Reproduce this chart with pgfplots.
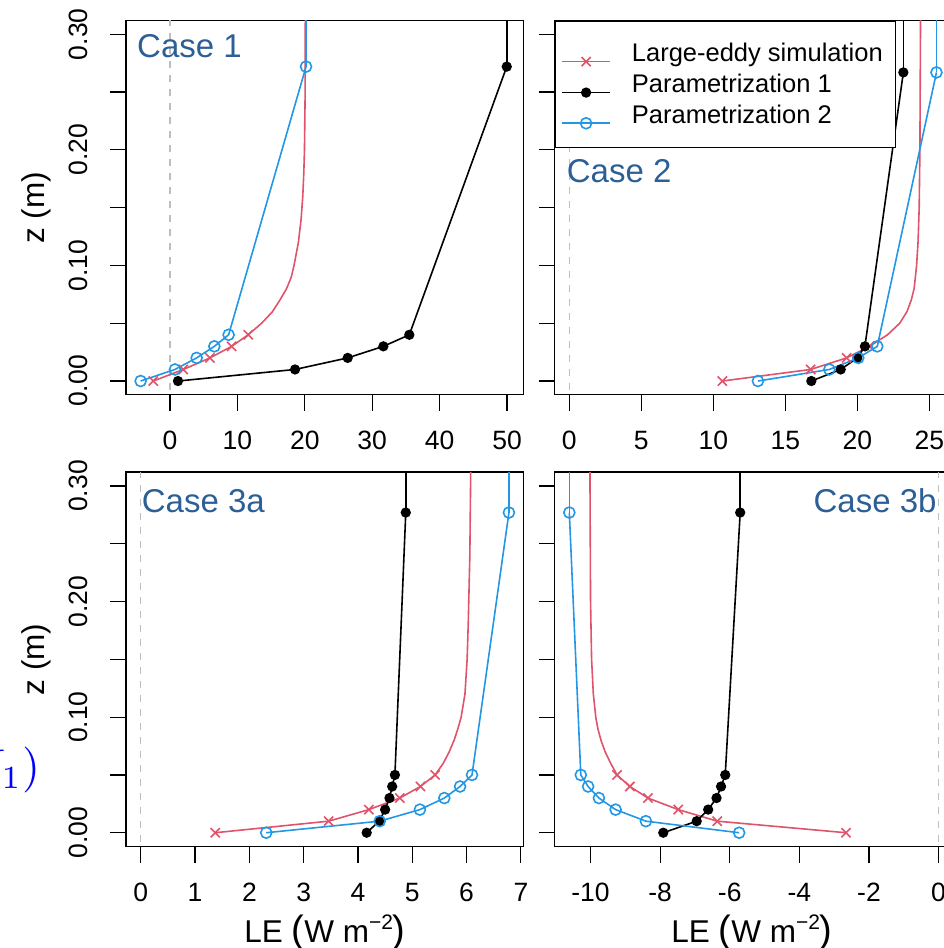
\documentclass[border=0pt]{standalone}
\usepackage[no-math]{fontspec}
\setmainfont{Liberation Sans}
\usepackage{pgfplots}
\pgfplotsset{compat=1.18}

\definecolor{lesred}{HTML}{DF536B}
\definecolor{ptwoblue}{HTML}{2297E6}
\definecolor{caseblue}{RGB}{44,95,150}
\definecolor{zerogray}{RGB}{190,190,190}

\pgfplotsset{
  panel/.style={
    scale only axis, width=397.6pt, height=374.5pt,
    anchor=south west,
    ymin=-0.012, ymax=0.312,
    ytick={0,0.05,0.1,0.15,0.2,0.25,0.3},
    tick align=outside, tick pos=left,
    major tick length=16pt,
    tick style={black, line width=1.2pt},
    axis line style={black, line width=1.2pt},
    tick label style={font=\fontsize{26.5}{30}\selectfont},
    xticklabel style={anchor=base, yshift=-39pt},
    yticklabel style={xshift=-22pt, rotate=90, anchor=base},
  },
  les/.style={lesred, line width=1.6pt, mark=x, mark size=6.5pt,
    mark options={line width=1.6pt, solid}},
  pone/.style={black, line width=1.6pt, mark=*, mark size=4.3pt},
  ptwo/.style={ptwoblue, line width=1.6pt, mark=o, mark size=5.5pt,
    mark options={line width=1.6pt}},
  zeroline/.style={zerogray, line width=1.2pt, dash pattern=on 7pt off 7pt, forget plot},
}

\begin{document}
\begin{tikzpicture}
\path[use as bounding box] (0pt,0pt) rectangle (943pt,948pt);

% Case 1
\begin{axis}[panel, at={(126pt,553.1pt)},
  xmin=-6.52, xmax=52.45,
  xtick={0,10,20,30,40,50}, xticklabels={0,10,20,30,40,50},
  yticklabels={0.00,{},0.10,{},0.20,{},0.30}]
\addplot[zeroline] coordinates {(0,-0.02) (0,0.33)};
\addplot[les, mark indices={1,2,3,4,5}] table {
x z
-2.47 0
1.98 0.01
5.93 0.02
9.15 0.03
11.6 0.04
13.6 0.05
15.2 0.06
16.3 0.07
17.3 0.08
18.0 0.09
18.4 0.10
19.05 0.12
19.45 0.14
19.7 0.16
19.85 0.18
19.95 0.20
20.05 0.25
20.08 0.33
};
\addplot[pone] table {
x z
1.19 0
18.55 0.01
26.36 0.02
31.65 0.03
35.5 0.04
49.95 0.272
};
\addplot[black, line width=1.6pt] coordinates {(49.95,0.272) (49.95,0.35)};
\addplot[ptwo] table {
x z
-4.35 0
0.74 0.01
3.96 0.02
6.58 0.03
8.7 0.04
20.18 0.272
};
\addplot[ptwoblue, line width=1.6pt] coordinates {(20.18,0.272) (20.18,0.35)};
\end{axis}

% Case 2
\begin{axis}[panel, at={(554.7pt,553.1pt)},
  xmin=-1.014, xmax=26.6,
  xtick={0,5,10,15,20,25}, xticklabels={0,5,10,15,20,25},
  yticklabels={{},{},{},{},{},{},{}},
  legend style={at={(rel axis cs:0,1)}, anchor=north west, draw=black,
    line width=1.2pt, fill=white, inner xsep=6pt, inner ysep=18.6pt,
    row sep=4.4pt, column sep=21pt,
    font=\fontsize{25.5}{28}\selectfont,
    nodes={inner sep=0pt, text height=22pt, text depth=2.6pt, anchor=base west}},
  legend cell align=left,
  legend image code/.code={\draw[mark repeat=2, mark phase=2, #1]
    plot coordinates {(0pt,0pt) (24pt,0pt) (48pt,0pt)};}]
\addplot[zeroline] coordinates {(0,-0.02) (0,0.33)};
\addplot[les, mark indices={1,2,3,4}, forget plot] table {
x z
10.63 0
16.76 0.01
19.26 0.02
20.85 0.03
22.1 0.04
22.95 0.05
23.45 0.06
23.75 0.07
23.95 0.08
24.12 0.10
24.22 0.12
24.3 0.15
24.35 0.20
24.4 0.33
};
\addplot[pone, forget plot] table {
x z
16.81 0
18.85 0.01
20.0 0.02
20.53 0.03
23.2 0.267
};
\addplot[black, line width=1.6pt, forget plot] coordinates {(23.2,0.267) (23.2,0.35)};
\addplot[ptwo, forget plot] table {
x z
13.1 0
18.06 0.01
20.07 0.02
21.39 0.03
25.5 0.267
};
\addplot[ptwoblue, line width=1.6pt, forget plot] coordinates {(25.5,0.267) (25.5,0.35)};
\addlegendimage{les}
\addlegendentry{Large-eddy simulation\hspace*{7pt}}
\addlegendimage{pone}
\addlegendentry{Parametrization 1}
\addlegendimage{ptwo}
\addlegendentry{Parametrization 2}
\end{axis}

% Case 3a
\begin{axis}[panel, at={(126pt,101.4pt)},
  xmin=-0.2726, xmax=7.05,
  xtick={0,1,2,3,4,5,6,7}, xticklabels={0,1,2,3,4,5,6,7},
  yticklabels={0.00,{},0.10,{},0.20,{},0.30}]
\addplot[zeroline] coordinates {(0,-0.02) (0,0.33)};
\addplot[les, mark indices={1,2,3,4,5,6}] table {
x z
1.37 0
3.46 0.01
4.20 0.02
4.77 0.03
5.15 0.04
5.42 0.05
5.57 0.06
5.68 0.07
5.77 0.08
5.84 0.09
5.90 0.10
5.97 0.12
6.01 0.15
6.03 0.18
6.06 0.24
6.08 0.33
};
\addplot[pone] table {
x z
4.16 0
4.39 0.01
4.50 0.02
4.58 0.03
4.63 0.04
4.68 0.05
4.88 0.277
};
\addplot[black, line width=1.6pt] coordinates {(4.88,0.277) (4.88,0.35)};
\addplot[ptwo] table {
x z
2.31 0
4.40 0.01
5.14 0.02
5.59 0.03
5.88 0.04
6.10 0.05
6.78 0.277
};
\addplot[ptwoblue, line width=1.6pt] coordinates {(6.78,0.277) (6.78,0.35)};
\end{axis}

% Case 3b
\begin{axis}[panel, at={(554.7pt,101.4pt)},
  xmin=-11.03, xmax=0.395,
  xtick={-10,-8,-6,-4,-2,0}, xticklabels={-10,-8,-6,-4,-2,0},
  yticklabels={{},{},{},{},{},{},{}}]
\addplot[zeroline] coordinates {(0,-0.02) (0,0.33)};
\addplot[les, mark indices={1,2,3,4,5,6}] table {
x z
-2.66 0
-6.36 0.01
-7.48 0.02
-8.35 0.03
-8.87 0.04
-9.24 0.05
-9.42 0.06
-9.58 0.07
-9.70 0.08
-9.79 0.09
-9.85 0.10
-9.92 0.12
-9.97 0.15
-10.0 0.20
-10.02 0.33
};
\addplot[pone] table {
x z
-7.91 0
-6.95 0.01
-6.62 0.02
-6.38 0.03
-6.25 0.04
-6.13 0.05
-5.70 0.277
};
\addplot[black, line width=1.6pt] coordinates {(-5.70,0.277) (-5.70,0.35)};
\addplot[ptwo] table {
x z
-5.73 0
-8.41 0.01
-9.28 0.02
-9.76 0.03
-10.07 0.04
-10.28 0.05
-10.61 0.277
};
\addplot[ptwoblue, line width=1.6pt] coordinates {(-10.61,0.277) (-10.61,0.35)};
\end{axis}

% panel titles
\begin{scope}[every node/.style={text=caseblue, font=\fontsize{33}{36}\selectfont, inner sep=0pt}]
\node[anchor=base west] at (137pt,890pt) {Case 1};
\node[anchor=base west] at (566.7pt,765.3pt) {Case 2};
\node[anchor=base west] at (141.7pt,435.3pt) {Case 3a};
\node[anchor=base east] at (936.7pt,435.3pt) {Case 3b};
\end{scope}

% axis titles
\begin{scope}[every node/.style={font=\fontsize{31.5}{34}\selectfont, inner sep=0pt}]
\node[rotate=90, anchor=base] at (44pt,740pt) {z (m)};
\node[rotate=90, anchor=base] at (44pt,288.5pt) {z (m)};
\node[anchor=base] at (325pt,5.3pt) {LE {\fontsize{38}{38}\selectfont(}W m\raisebox{0.42em}{\fontsize{21}{21}\selectfont −2}{\fontsize{38}{38}\selectfont)}};
\node[anchor=base] at (752pt,5.3pt) {LE {\fontsize{38}{38}\selectfont(}W m\raisebox{0.42em}{\fontsize{21}{21}\selectfont −2}{\fontsize{38}{38}\selectfont)}};
\end{scope}

% cut-off text at the left edge
\node[anchor=base east, text=blue, inner sep=0pt, scale=4.6] at (41pt,166pt) {$H_1)$};
\end{tikzpicture}
\end{document}
